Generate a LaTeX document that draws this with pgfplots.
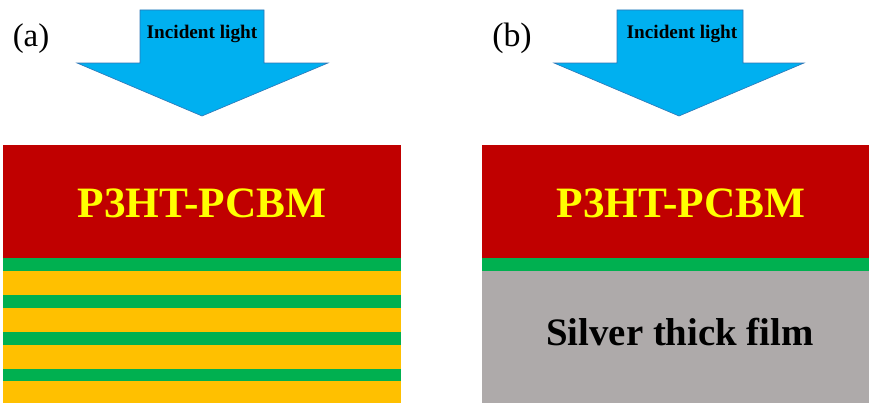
\documentclass[border=0pt]{standalone}
\usepackage{pgfplots}
\pgfplotsset{compat=1.18}
\usepackage{fontspec}
\setmainfont{Liberation Serif}

\definecolor{layerred}{HTML}{C00000}
\definecolor{layergreen}{HTML}{00B050}
\definecolor{layeryellow}{HTML}{FFC000}
\definecolor{silvergray}{HTML}{AEAAAA}
\definecolor{lightblue}{HTML}{00B0F0}
\definecolor{lightedge}{HTML}{2E75B6}
\definecolor{labelyellow}{HTML}{FFFF00}

\begin{document}
\begin{tikzpicture}
\begin{axis}[
  width=869bp, height=403bp, scale only axis,
  xmin=0, xmax=869, ymin=0, ymax=403, y dir=reverse,
  hide axis, clip=false,
]
% page background
\addplot[fill=white, draw=none] coordinates {(0,0) (869,0) (869,403) (0,403)} -- cycle;

% ---- (a) multilayer stack ----
\addplot[fill=layerred, draw=none] coordinates {(3,145) (401,145) (401,258) (3,258)} -- cycle;
\addplot[fill=layergreen, draw=none] coordinates {(3,258) (401,258) (401,271) (3,271)} -- cycle;
\addplot[fill=layeryellow, draw=none] coordinates {(3,271) (401,271) (401,295) (3,295)} -- cycle;
\addplot[fill=layergreen, draw=none] coordinates {(3,295) (401,295) (401,307.5) (3,307.5)} -- cycle;
\addplot[fill=layeryellow, draw=none] coordinates {(3,307.5) (401,307.5) (401,332) (3,332)} -- cycle;
\addplot[fill=layergreen, draw=none] coordinates {(3,332) (401,332) (401,344.5) (3,344.5)} -- cycle;
\addplot[fill=layeryellow, draw=none] coordinates {(3,344.5) (401,344.5) (401,369) (3,369)} -- cycle;
\addplot[fill=layergreen, draw=none] coordinates {(3,369) (401,369) (401,380.5) (3,380.5)} -- cycle;
\addplot[fill=layeryellow, draw=none] coordinates {(3,380.5) (401,380.5) (401,403) (3,403)} -- cycle;

% ---- (b) single spacer on silver ----
\addplot[fill=layerred, draw=none] coordinates {(482,145) (869,145) (869,258) (482,258)} -- cycle;
\addplot[fill=layergreen, draw=none] coordinates {(482,258) (869,258) (869,271) (482,271)} -- cycle;
\addplot[fill=silvergray, draw=none] coordinates {(482,271) (869,271) (869,403) (482,403)} -- cycle;

% ---- incident light arrows ----
\addplot[fill=lightblue, draw=lightedge, line width=0.6pt] coordinates
  {(140,10) (264,10) (264,63) (328,63) (202,116) (77,63) (140,63)} -- cycle;
\addplot[fill=lightblue, draw=lightedge, line width=0.6pt] coordinates
  {(617,10) (743,10) (743,63) (804,63) (679,116) (554,63) (617,63)} -- cycle;

% ---- text ----
\node[anchor=base, inner sep=0pt, font=\fontsize{33}{33}\selectfont] at (axis cs:31,46) {(a)};
\node[anchor=base, inner sep=0pt, font=\fontsize{34}{34}\selectfont] at (axis cs:512,46) {(b)};
\node[anchor=base, inner sep=0pt, font=\bfseries\fontsize{19.3}{19}\selectfont] at (axis cs:202,38) {Incident light};
\node[anchor=base, inner sep=0pt, font=\bfseries\fontsize{19.3}{19}\selectfont] at (axis cs:682,38) {Incident light};
\node[anchor=base, inner sep=0pt, text=labelyellow, font=\bfseries\fontsize{43.5}{43}\selectfont] at (axis cs:202,217) {P3HT-PCBM};
\node[anchor=base, inner sep=0pt, text=labelyellow, font=\bfseries\fontsize{43.5}{43}\selectfont] at (axis cs:681,217) {P3HT-PCBM};
\node[anchor=base, inner sep=0pt, text=black, font=\bfseries\fontsize{39}{39}\selectfont] at (axis cs:680,345) {Silver thick film};
\end{axis}
\end{tikzpicture}
\end{document}
